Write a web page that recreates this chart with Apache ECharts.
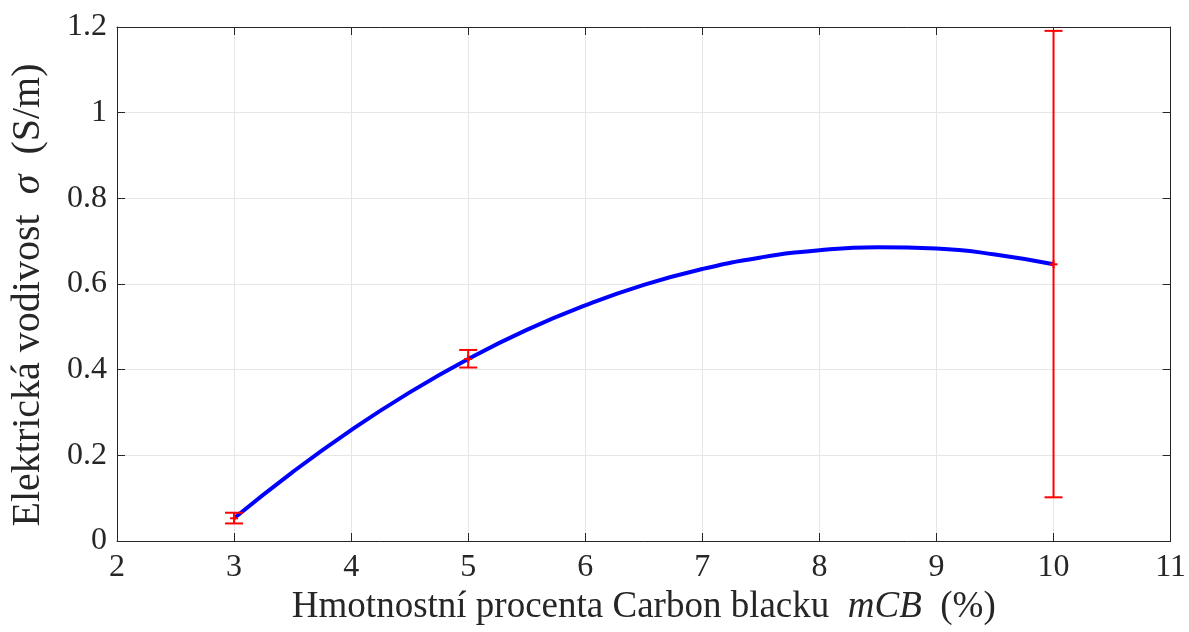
<!DOCTYPE html>
<html><head><meta charset="utf-8">
<script src="https://cdn.jsdelivr.net/npm/echarts@6/dist/echarts.min.js"></script>
<style>html,body{margin:0;padding:0;background:#fff}#c{width:1189px;height:632px}</style>
</head><body><div id="c"></div>
<script>
// measured points (x = mCB %, mean, lower, upper)
const pointX = [3, 5, 10];
const pointMean = [0.053, 0.425, 0.646];
const pointLow = [0.041, 0.405, 0.102];
const pointHigh = [0.066, 0.446, 1.191];
// fitted curve
const curveX = [3, 3.5, 4, 4.5, 5, 5.5, 6, 6.5, 7, 7.5, 8, 8.5, 9, 9.5, 10];
const curveY = [0.053, 0.161, 0.259, 0.347, 0.425, 0.493, 0.550, 0.598, 0.635, 0.662, 0.679, 0.686, 0.683, 0.669, 0.646];

const font = 'Liberation Serif';
const axisCol = '#262626';
const chart = echarts.init(document.getElementById('c'), null, {renderer: 'canvas'});

const errData = pointX.map((x, i) => [x, pointLow[i], pointHigh[i], pointMean[i]]);
const curveData = curveX.map((x, i) => [x, curveY[i]]);

const baseAxis = {
  axisLine: {show: true, onZero: false, lineStyle: {color: axisCol, width: 1}},
  axisTick: {show: true, inside: true, length: 8, lineStyle: {color: axisCol}},
};

chart.setOption({
  animation: false,
  grid: {left: 117, right: 15, top: 27, bottom: 91},
  xAxis: [
    Object.assign({}, baseAxis, {
      type: 'value', min: 2, max: 11, interval: 1, position: 'bottom',
      axisLabel: {fontFamily: font, fontSize: 32, color: axisCol, margin: 11},
      splitLine: {show: true, lineStyle: {color: '#e6e6e6'}},
      name: '{n|Hmotnostní procenta Carbon blacku  }{i|mCB}{n|  (%)}',
      nameLocation: 'middle', nameGap: 48,
      nameTextStyle: {rich: {n: {fontFamily: font, fontSize: 37, color: axisCol}, i: {fontFamily: font, fontSize: 37, fontStyle: 'italic', color: axisCol}}}
    }),
    Object.assign({}, baseAxis, {
      type: 'value', min: 2, max: 11, interval: 1, position: 'top',
      axisLabel: {show: false}, splitLine: {show: false}
    })
  ],
  yAxis: [
    Object.assign({}, baseAxis, {
      type: 'value', min: 0, max: 1.2, interval: 0.2, position: 'left',
      axisLabel: {fontFamily: font, fontSize: 32, color: axisCol, margin: 10},
      splitLine: {show: true, lineStyle: {color: '#e6e6e6'}},
      name: '{n|Elektrická vodivost  }{i|σ}{n|  (S/m)}',
      nameLocation: 'middle', nameGap: 69, nameRotate: 90,
      nameTextStyle: {padding: [0, 22, 0, 0], rich: {n: {fontFamily: font, fontSize: 40, color: axisCol}, i: {fontFamily: font, fontSize: 40, fontStyle: 'italic', color: axisCol}}}
    }),
    Object.assign({}, baseAxis, {
      type: 'value', min: 0, max: 1.2, interval: 0.2, position: 'right',
      axisLabel: {show: false}, splitLine: {show: false}
    })
  ],
  series: [
    {
      type: 'line', data: curveData, smooth: true, showSymbol: false,
      lineStyle: {color: '#0000ff', width: 4}, z: 3
    },
    {
      type: 'custom', data: errData, z: 4,
      renderItem: function (params, api) {
        const x = api.value(0);
        const lo = api.coord([x, api.value(1)]);
        const hi = api.coord([x, api.value(2)]);
        const m = api.coord([x, api.value(3)]);
        const cw = 9, mk = 4;
        const st = {stroke: '#ff0000', lineWidth: 2};
        return {type: 'group', children: [
          {type: 'line', shape: {x1: lo[0], y1: lo[1], x2: hi[0], y2: hi[1]}, style: st},
          {type: 'line', shape: {x1: lo[0] - cw, y1: lo[1], x2: lo[0] + cw, y2: lo[1]}, style: st},
          {type: 'line', shape: {x1: hi[0] - cw, y1: hi[1], x2: hi[0] + cw, y2: hi[1]}, style: st},
          {type: 'line', shape: {x1: m[0] - mk, y1: m[1], x2: m[0] + mk, y2: m[1]}, style: st},
          {type: 'line', shape: {x1: m[0], y1: m[1] - mk, x2: m[0], y2: m[1] + mk}, style: st}
        ]};
      }
    }
  ]
});
</script></body></html>
